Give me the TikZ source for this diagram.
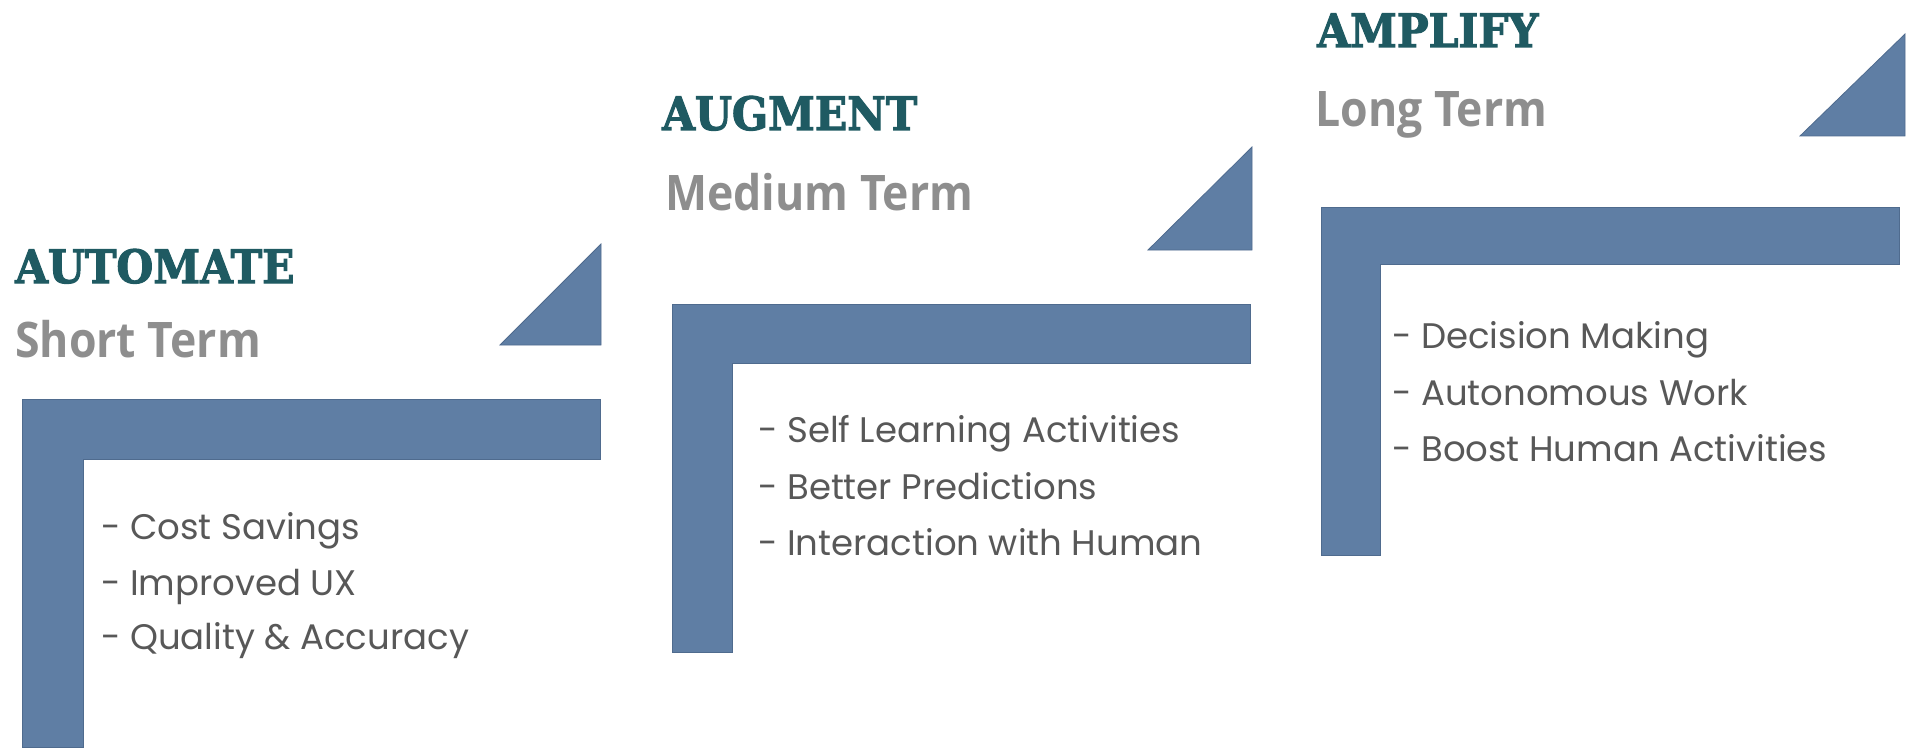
\documentclass[tikz,border=0pt]{standalone}
\usepackage{fontspec}
\newfontfamily\titlefont{DejaVu Serif}[FakeStretch=0.92,FakeBold=2.2]
\newfontfamily\termfont{Open Sans}[FakeStretch=0.91]
\newfontfamily\itemfont{Poppins}
\definecolor{barblue}{HTML}{5F7EA4}
\definecolor{baredge}{HTML}{4F6B8E}
\definecolor{titleteal}{HTML}{1F5A62}
\definecolor{termgray}{HTML}{8E8E8E}
\definecolor{itemgray}{HTML}{585858}
\begin{document}
\begin{tikzpicture}[x=1pt,y=-1pt,
  bar/.style={fill=barblue,draw=baredge,line width=0.8pt,line join=miter},
  phase/.style={anchor=base west,inner sep=0pt,text=titleteal,
    font=\titlefont\bfseries\fontsize{46}{50}\selectfont},
  horizon/.style={anchor=base west,inner sep=0pt,text=termgray,
    font=\termfont\bfseries\fontsize{49}{52}\selectfont},
  benefit/.style={anchor=base west,inner sep=0pt,text=itemgray,
    font=\itemfont\fontsize{35.5}{40}\selectfont}]
\useasboundingbox (0,0) rectangle (1921,749);
\fill[white] (0,0) rectangle (1921,749);

% ---- step 1: automate ----
\draw[bar] (22,399) -- (600,399) -- (600,459) -- (83,459) -- (83,747) -- (22,747) -- cycle;
\draw[bar] (500,345) -- (601,345) -- (601,244) -- cycle;
\node[phase]   (t1) at (15,283) {AUTOMATE};
\node[horizon] (s1) at (15,357) {Short Term};
\node[benefit] (a1) at (101,539) {- Cost Savings};
\node[benefit] (b1) at (101,595) {- Improved UX};
\node[benefit] (c1) at (101,649) {- Quality \& Accuracy};

% ---- step 2: augment ----
\draw[bar] (672,304) -- (1250,304) -- (1250,363) -- (732,363) -- (732,652) -- (672,652) -- cycle;
\draw[bar] (1148,250) -- (1252,250) -- (1252,147) -- cycle;
\node[phase]   (t2) at (662,130) {AUGMENT};
\node[horizon] (s2) at (665,210) {Medium Term};
\node[benefit] (a2) at (758,442) {- Self Learning Activities};
\node[benefit] (b2) at (758,499) {- Better Predictions};
\node[benefit] (c2) at (758,555) {- Interaction with Human};

% ---- step 3: amplify ----
\draw[bar] (1321,207) -- (1899,207) -- (1899,264) -- (1380,264) -- (1380,555) -- (1321,555) -- cycle;
\draw[bar] (1800,136) -- (1905,136) -- (1905,34) -- cycle;
\node[phase]   (t3) at (1317,47) {AMPLIFY};
\node[horizon] (s3) at (1315,127) {Long Term};
\node[benefit] (a3) at (1392,348) {- Decision Making};
\node[benefit] (b3) at (1392,405) {- Autonomous Work};
\node[benefit] (c3) at (1392,461) {- Boost Human Activities};
\end{tikzpicture}
\end{document}
